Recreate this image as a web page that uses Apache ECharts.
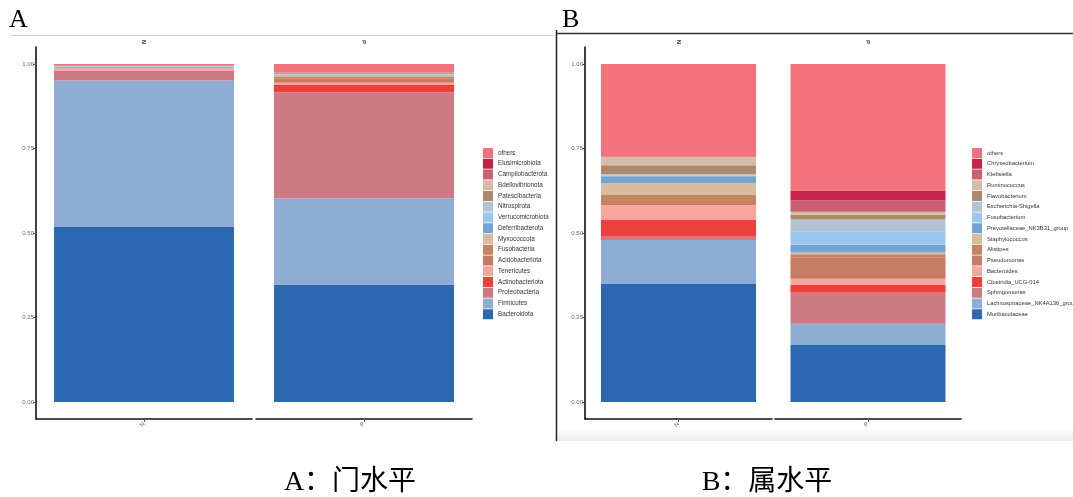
<!DOCTYPE html>
<html>
<head>
<meta charset="utf-8">
<script src="https://cdn.jsdelivr.net/npm/echarts@6/dist/echarts.min.js"></script>
<style>html,body{margin:0;padding:0;background:#fff;}#c{width:1073px;height:497px;}</style>
</head>
<body>
<div id="c"></div>
<script>
// ---- data (bottom-up stacking order) ----
const samples = ['N', 'P'];
const phyla = ['Bacteroidota','Firmicutes','Proteobacteria','Actinobacteriota','Tenericutes','Acidobacteriota','Fusobacteria','Myxococcota','Deferribacterota','Verrucomicrobiota','Nitrospirota','Patescibacteria','Bdellovibrionota','Campilobacterota','Elusimicrobiota','others'];
const phylumN = [0.518,0.433,0.026,0.003,0.006,0.001,0.0005,0.0005,0.002,0.003,0.0005,0.0005,0.0005,0.001,0.0005,0.0035];
const phylumP = [0.348,0.255,0.313,0.022,0.006,0.012,0.007,0.003,0.001,0.001,0.003,0.002,0.001,0.001,0.0005,0.0245];
const genera = ['Muribaculaceae','Lachnospiraceae_NK4A136_group','Sphingomonas','Clostridia_UCG-014','Bacteroides','Pseudomonas','Alistipes','Staphylococcus','Prevotellaceae_NK3B31_group','Fusobacterium','Escherichia-Shigella','Flavobacterium','Ruminococcus','Klebsiella','Chryseobacterium','others'];
const genusN = [0.349,0.130,0.010,0.051,0.042,0.004,0.026,0.036,0.020,0.003,0.003,0.026,0.025,0.001,0.001,0.273];
const genusP = [0.169,0.063,0.091,0.023,0.019,0.062,0.010,0.005,0.023,0.040,0.035,0.015,0.008,0.033,0.030,0.374];
const yTicks = [0, 0.25, 0.5, 0.75, 1];

// ---- styles ----
const palette = ['#2C67AF','#8FADD4','#CE7984','#EE403B','#F9A6A1','#C77B62','#C5845F','#D9BC9E','#74A2D2','#99C6EE','#B4C3D2','#AE8A6C','#D8BBA4','#CC5E72','#C8234A','#F2737B'];

const chart = echarts.init(document.getElementById('c'), null, {renderer: 'canvas'});

const gridDefs = [
  {left: 36, top: 47, width: 216, height: 372},
  {left: 256, top: 47, width: 216, height: 372},
  {left: 585, top: 47, width: 187, height: 372},
  {left: 775, top: 47, width: 186, height: 372}
];
const facetSample = [0, 1, 0, 1];

const xAxes = [];
const yAxes = [];
gridDefs.forEach((g, i) => {
  const cat = [samples[facetSample[i]]];
  xAxes.push({
    gridIndex: i, type: 'category', data: cat, position: 'bottom',
    axisLine: {show: true, onZero: false, lineStyle: {color: '#111', width: 1.6}},
    axisTick: {show: true, alignWithLabel: true, length: 3, lineStyle: {color: '#555'}},
    axisLabel: {rotate: 45, fontSize: 6, color: '#666', margin: 4, fontFamily: 'Liberation Sans'}
  });
  xAxes.push({
    gridIndex: i, type: 'category', data: cat, position: 'top',
    axisLine: {show: false}, axisTick: {show: false},
    axisLabel: {rotate: -90, fontSize: 6, fontWeight: 'bold', color: '#333', margin: 3, fontFamily: 'Liberation Sans'}
  });
  const showY = (i === 0 || i === 2);
  yAxes.push({
    gridIndex: i, type: 'value', min: -0.05, max: 1.05, show: showY,
    splitLine: {show: false},
    axisLine: {show: true, lineStyle: {color: '#111', width: 1.6}},
    axisTick: {show: true, length: 3, customValues: yTicks, lineStyle: {color: '#555'}},
    axisLabel: {customValues: yTicks, fontSize: 6, color: '#666', margin: 2, fontFamily: 'Liberation Sans',
      formatter: v => Number(v).toFixed(2)}
  });
});

const series = [];
function addFacet(names, vals, gi, stackId, bw) {
  names.forEach((n, k) => {
    series.push({
      type: 'bar', name: n, stack: stackId,
      xAxisIndex: gi * 2, yAxisIndex: gi,
      data: [vals[k]], barWidth: bw,
      itemStyle: {color: palette[k]},
      emphasis: {disabled: true}
    });
  });
}
addFacet(phyla, phylumN, 0, 'aN', 180);
addFacet(phyla, phylumP, 1, 'aP', 180);
addFacet(genera, genusN, 2, 'bN', 155);
addFacet(genera, genusP, 3, 'bP', 155);

const legendCommon = {
  orient: 'vertical', itemWidth: 10, itemHeight: 10, itemGap: 0.75, icon: 'rect',
  padding: 0, selectedMode: false
};

chart.setOption({
  animation: false,
  backgroundColor: '#fff',
  grid: gridDefs,
  xAxis: xAxes,
  yAxis: yAxes,
  series: series,
  legend: [
    Object.assign({}, legendCommon, {left: 483, top: 148, data: phyla.slice().reverse(),
      textStyle: {fontSize: 6.3, color: '#333', fontFamily: 'Liberation Sans'}}),
    Object.assign({}, legendCommon, {left: 972, top: 148, data: genera.slice().reverse(),
      textStyle: {fontSize: 5.8, color: '#333', fontFamily: 'Liberation Sans'}})
  ],
  graphic: [
    {type: 'line', shape: {x1: 10, y1: 35.5, x2: 554, y2: 35.5}, style: {stroke: '#cccccc', lineWidth: 1}},
    {type: 'line', shape: {x1: 556.5, y1: 30, x2: 556.5, y2: 441}, style: {stroke: '#222', lineWidth: 1.5}},
    {type: 'line', shape: {x1: 557, y1: 33.5, x2: 1073, y2: 33.5}, style: {stroke: '#333', lineWidth: 1.5}},
    {type: 'rect', shape: {x: 558, y: 428, width: 515, height: 13},
      style: {fill: new echarts.graphic.LinearGradient(0, 0, 0, 1, [{offset: 0, color: '#ffffff'}, {offset: 1, color: '#ececec'}])}},
    {type: 'text', x: 9, y: 7, style: {text: 'A', font: '26px "Liberation Serif"', fill: '#000'}},
    {type: 'text', x: 562, y: 7, style: {text: 'B', font: '26px "Liberation Serif"', fill: '#000'}},
    {type: 'text', x: 350, y: 469, style: {text: 'A：门水平', align: 'center', font: '28px "Liberation Serif", "Noto Sans CJK SC"', fill: '#000'}},
    {type: 'text', x: 767, y: 469, style: {text: 'B：属水平', align: 'center', font: '28px "Liberation Serif", "Noto Sans CJK SC"', fill: '#000'}}
  ]
});
</script>
</body>
</html>
